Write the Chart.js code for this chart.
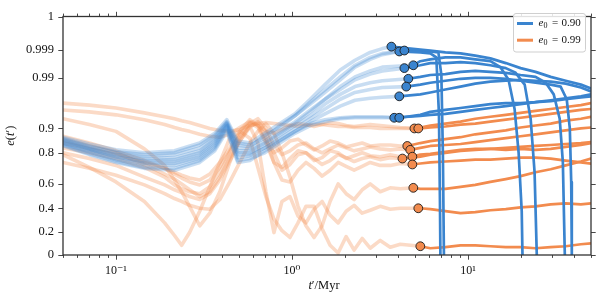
<!DOCTYPE html>
<html><head><meta charset="utf-8">
<script src="https://cdn.jsdelivr.net/npm/chart.js@4.4.0/dist/chart.umd.min.js"></script>
<style>html,body{margin:0;padding:0;background:#fff}</style>
</head><body>
<canvas id="c" width="600" height="300"></canvas>
<script>
// ---------- axis definitions ----------
const X_TICKS = [0.1, 1, 10];
const X_TICK_LABELS = ['10\u207B\u00B9', '10\u2070', '10\u00B9'];
const Y_TICKS = [0, 0.2, 0.4, 0.6, 0.8, 0.9, 0.99, 0.999, 1];
const Y_TICK_LABELS = ['0', '0.2', '0.4', '0.6', '0.8', '0.9', '0.99', '0.999', '1'];
const LEGEND_LABELS = ['0.90', '0.99'];

// ---------- e0 = 0.90 (blue) ----------
const BLUE_EARLY_T = [0.05,0.0706,0.1,0.145,0.215,0.299,0.364,0.426,0.492,0.577,0.701,0.854,1.04,1.27,1.54,1.88,2.28,2.78,3.26];
const BLUE_EARLY_E = [
 [0.864,0.836,0.812,0.8,0.808,0.84,0.88,0.9156,0.848,0.84,0.88,0.9087,0.926,0.9519,0.9779,0.9925,0.9956,0.9981,0.99903],
 [0.86,0.828,0.804,0.788,0.8,0.832,0.872,0.9121,0.84,0.832,0.86,0.9052,0.9225,0.9467,0.9692,0.9903,0.994,0.9965,0.9978],
 [0.856,0.824,0.8,0.775,0.788,0.82,0.864,0.9104,0.832,0.824,0.872,0.9017,0.9225,0.9433,0.964,0.9865,0.9934,0.9959,0.9974],
 [0.852,0.82,0.788,0.763,0.769,0.808,0.856,0.9087,0.82,0.816,0.848,0.888,0.9121,0.9329,0.9519,0.9744,0.9903,0.9922,0.9934],
 [0.848,0.816,0.781,0.75,0.756,0.8,0.848,0.9069,0.808,0.808,0.84,0.88,0.9087,0.9294,0.9519,0.9692,0.9865,0.9912,0.9922],
 [0.844,0.812,0.775,0.744,0.744,0.788,0.84,0.9052,0.8,0.8,0.832,0.872,0.9052,0.9225,0.9433,0.9606,0.9744,0.9813,0.9848],
 [0.84,0.808,0.763,0.731,0.731,0.775,0.832,0.9035,0.788,0.788,0.82,0.86,0.9,0.9173,0.9346,0.9519,0.964,0.9692,0.9727],
 [0.836,0.804,0.756,0.725,0.719,0.763,0.824,0.9017,0.769,0.781,0.82,0.852,0.888,0.9121,0.926,0.9398,0.9502,0.9537,0.9554],
 [0.832,0.794,0.744,0.706,0.7,0.75,0.816,0.896,0.75,0.763,0.8,0.84,0.88,0.9052,0.9121,0.9173,0.919,0.919,0.919],
 [0.828,0.788,0.738,0.7,0.688,0.738,0.808,0.888,0.738,0.75,0.808,0.848,0.888,0.9087,0.9156,0.919,0.9208,0.9208,0.9208]
];
const BLUE_MARK_T = [3.67,4.07,4.35,4.89,4.35,4.58,4.46,4.07,3.81,4.07];
const BLUE_MARK_E = [0.99909,0.9984,0.9987,0.994,0.9931,0.9883,0.9744,0.9571,0.919,0.919];

const LATE_T = [5.36,6.11,7.44,9.07,11.0,13.4,16.4,19.9,24.2,29.5,35.9,43.8,50];
const BLUE_LATE_E = [
 [0.999,0.9987,0.9981,0.9978,0.9971,0.9962,0.9947,0.9931,0.9919,0.9903,0.9848,0.9779,0.971],
 [0.9981,0.9978,null,null,null,null,null,null,null,null,null,null,null],
 [0.9987,0.9984,null,null,null,null,null,null,null,null,null,null,null],
 [0.9953,0.9959,0.9965,0.9965,0.9959,0.9953,null,null,null,null,null,null,null],
 [0.994,0.9947,0.9947,0.995,0.9947,0.994,0.9931,null,null,null,null,null,null],
 [0.9903,0.9909,0.9912,0.9919,0.9922,0.9919,0.9916,0.9909,0.9903,null,null,null,null],
 [0.9779,0.9813,0.9848,0.9883,0.99,0.99,0.9883,0.9848,0.9813,0.9779,null,null,null],
 [0.9606,0.964,0.9692,0.9744,0.9796,0.9831,0.9848,0.9865,0.9848,0.9831,0.9796,0.9727,0.9658],
 [0.9225,0.9242,0.926,0.9294,0.9329,0.9363,0.9398,0.9433,0.9467,0.9485,0.9519,0.9554,0.9571],
 [0.9242,0.9294,0.9329,0.9363,0.9398,0.9433,0.945,0.945,0.9467,0.9502,0.9537,0.9571,0.9606]
];
// final plunge to e = 0
const BLUE_PLUNGE_T = [[],[6.61,6.84,6.93,6.97],[6.79,7.06,7.2,7.3],[15.3,17.0,18.4,19.4,20.2,20.4],[18.65,21.0,22.7,23.9,24.6],[27.65,30.7,33.2,34.6,35.5],[33.6,36.4,37.9,38.6,38.9],[],[],[]];
const BLUE_PLUNGE_E = [[],[0.9965,0.926,0.456,0],[0.9981,0.9909,0.8,0],[0.9934,0.9865,0.9346,0.8,0.375,0],[0.9916,0.9779,0.9173,0.675,0],[0.9813,0.9606,0.9173,0.738,0],[0.9744,0.9519,0.9,0.6125,0],[],[],[]];

// ---------- e0 = 0.99 (orange) ----------
const ORANGE_EARLY_T = [0.05,0.0706,0.1,0.145,0.189,0.215,0.236,0.262,0.299,0.341,0.389,0.443,0.505,0.576,0.640,0.711,0.790,0.877,0.974,1.082,1.201,1.335,1.483,1.646,1.829,2.031,2.255,2.505,2.782,3.172,3.616,4.124];
const ORANGE_EARLY_E = [
 [0.945,0.9415,0.9363,0.9277,0.9208,0.9173,0.9138,0.9104,0.9052,0.9,0.892,0.888,0.896,0.9052,0.9087,0.9104,0.9087,0.9069,0.9052,0.9035,0.9052,0.9069,0.9069,0.9052,0.9035,0.9035,0.9017,0.9017,0.9017,0.9,0.9,0.9],
 [0.9329,0.9294,0.9242,0.9156,0.9069,0.9017,0.896,0.888,0.876,0.868,0.864,0.876,0.9017,0.9121,0.9052,0.888,0.88,0.896,0.9052,0.9087,0.9069,0.9035,0.9069,0.9104,0.9087,0.9052,0.9035,0.9052,0.9069,0.9052,0.9035,0.9017],
 [0.84,0.816,0.788,0.738,0.7,0.675,0.656,0.638,0.625,0.663,0.738,0.82,0.888,0.9156,0.9052,0.848,0.8,0.82,0.848,0.856,0.832,0.812,0.828,0.848,0.84,0.824,0.832,0.84,0.828,0.832,0.832,0.828],
 [0.868,0.84,0.808,0.75,0.7,0.663,0.638,0.613,0.592,0.625,0.706,0.808,0.872,0.9087,0.9173,0.9,0.832,0.788,0.808,0.832,0.84,0.816,0.8,0.816,0.832,0.82,0.808,0.816,0.824,0.816,0.812,0.816],
 [0.852,0.828,0.8,0.725,0.663,0.631,0.6,0.552,0.496,0.536,0.644,0.769,0.848,0.9017,0.9121,0.888,0.8,0.688,0.725,0.788,0.8,0.763,0.725,0.75,0.788,0.769,0.744,0.763,0.775,0.756,0.769,0.763],
 [0.82,0.8,0.763,0.706,0.644,0.592,0.56,0.536,0.52,0.576,0.675,0.8,0.88,0.9104,0.9017,0.84,0.738,0.706,0.763,0.808,0.8,0.75,0.769,0.808,0.8,0.763,0.781,0.8,0.781,0.775,0.788,0.775],
 [0.8,0.763,0.719,0.644,0.592,0.552,0.528,0.496,0.472,0.52,0.625,0.75,0.848,0.9052,0.9087,0.86,0.738,0.625,0.613,0.688,0.738,0.7,0.65,0.688,0.738,0.713,0.688,0.713,0.738,0.719,0.719,0.731],
 [0.738,0.7,0.656,0.592,0.52,0.48,0.456,0.424,0.4,0.392,0.472,0.613,0.738,0.84,0.888,0.9087,0.88,0.8,0.644,0.416,0.25,0.15,0.25,0.456,0.6,0.52,0.472,0.552,0.6,0.536,0.568,0.56],
 [0.9173,0.9069,0.888,0.816,0.719,0.625,0.536,0.416,0.25,0.358,0.536,0.738,0.86,0.9035,0.84,0.536,0.192,0.456,0.496,0.333,0.275,0.392,0.456,0.342,0.275,0.375,0.424,0.358,0.383,0.416,0.392,0.4],
 [0.788,0.706,0.613,0.456,0.275,0.167,0.083,0.192,0.375,0.576,0.738,0.86,0.888,0.86,0.706,0.496,0.308,0.208,0.15,0.275,0.416,0.416,0.225,0.083,0.017,0.158,0.042,0.142,0.058,0.125,0.067,0.092]
];
const ORANGE_MARK_T = [4.96,5.22,4.52,4.70,4.24,4.83,4.83,4.89,5.22,5.36];
const ORANGE_MARK_E = [0.9,0.9,0.828,0.812,0.763,0.775,0.725,0.568,0.4,0.075];
const ORANGE_LATE_E = [
 [0.9017,0.9052,0.9087,0.9121,0.9173,0.9208,0.9242,0.9277,0.9312,0.9346,0.9381,0.9415,0.945],
 [0.9,0.9017,0.9035,0.9069,0.9087,0.9121,0.9156,0.919,0.9225,0.926,0.9294,0.9329,0.9346],
 [0.84,0.848,0.856,0.864,0.876,0.884,0.892,0.9017,0.9052,0.9087,0.9138,0.9173,0.9208],
 [0.82,0.828,0.832,0.836,0.844,0.852,0.86,0.868,0.876,0.884,0.892,0.9,0.9017],
 [0.775,0.788,0.8,0.808,0.812,0.816,0.82,0.824,0.828,0.832,0.836,0.84,0.844],
 [0.788,0.794,0.804,0.812,0.816,0.816,0.812,0.816,0.812,0.816,0.824,0.832,0.84],
 [0.731,0.738,0.744,0.75,0.756,0.756,0.763,0.769,0.769,0.763,0.75,0.738,0.731],
 [0.56,0.56,0.56,0.576,0.592,0.613,0.631,0.65,0.675,0.694,0.719,0.744,0.763],
 [0.4,0.392,0.375,0.358,0.367,0.383,0.392,0.408,0.416,0.432,0.44,0.432,0.44],
 [0.075,0.058,0.067,0.083,0.083,0.075,0.067,0.067,0.058,0.067,0.075,0.092,0.1]
];

// ---------- styling ----------
const BLUE = '#3a84cf', ORANGE = '#f28b4e';
const BLUE_FADE = 'rgba(58,132,207,0.28)', ORANGE_FADE = 'rgba(242,139,78,0.32)';
const SERIF = "'Liberation Serif', 'DejaVu Serif', serif";

// nonlinear e-axis: scale units at each labelled tick
const Y_SCALE_UNITS = [0, 24, 48, 73, 105, 130, 182, 211, 245];
function toU(e) {
  for (let i = 1; i < Y_TICKS.length; i++) {
    if (e <= Y_TICKS[i]) {
      const a = Y_TICKS[i-1], b = Y_TICKS[i];
      return Y_SCALE_UNITS[i-1] + (e - a) / (b - a) * (Y_SCALE_UNITS[i] - Y_SCALE_UNITS[i-1]);
    }
  }
  return Y_SCALE_UNITS[Y_SCALE_UNITS.length - 1];
}

const datasets = [];
function addFamily(earlyT, earlyE, markT, markE, lateE, plT, plE, color, fade, fadeOrder, solidOrder, markOrder) {
  for (let i = 0; i < markT.length; i++) {
    const mt = markT[i], me = markE[i];
    const faded = [];
    earlyT.forEach((t, j) => { const e = earlyE[i][j]; if (e != null && t < mt) faded.push({x: t, y: toU(e)}); });
    faded.push({x: mt, y: toU(me)});
    datasets.push({data: faded, borderColor: fade, borderWidth: 3.6, order: fadeOrder, pointRadius: 0});
    const solid = [{x: mt, y: toU(me)}];
    LATE_T.forEach((t, j) => { const e = lateE[i][j]; if (e != null && t > mt) solid.push({x: t, y: toU(e)}); });
    (plT[i] || []).forEach((t, j) => solid.push({x: t, y: toU(plE[i][j])}));
    datasets.push({data: solid, borderColor: color, borderWidth: 2.7, order: solidOrder, pointRadius: 0});
  }
  datasets.push({
    data: markT.map((t, i) => ({x: t, y: toU(markE[i])})), showLine: false,
    pointRadius: 4.4, pointBackgroundColor: color, pointBorderColor: '#1c1c1c', pointBorderWidth: 0.9, order: markOrder
  });
}
addFamily(ORANGE_EARLY_T, ORANGE_EARLY_E, ORANGE_MARK_T, ORANGE_MARK_E, ORANGE_LATE_E, [], [], ORANGE, ORANGE_FADE, 6, 4, 1);
addFamily(BLUE_EARLY_T, BLUE_EARLY_E, BLUE_MARK_T, BLUE_MARK_E, BLUE_LATE_E, BLUE_PLUNGE_T, BLUE_PLUNGE_E, BLUE, BLUE_FADE, 5, 3, 0);

function drawRich(ctx, parts, cx, cy, size) {
  let w = 0;
  parts.forEach(p => { ctx.font = `${p[1]} ${size}px ${SERIF}`; w += ctx.measureText(p[0]).width; });
  let xx = cx - w / 2;
  ctx.textBaseline = 'middle'; ctx.textAlign = 'left';
  parts.forEach(p => { ctx.font = `${p[1]} ${size}px ${SERIF}`; ctx.fillText(p[0], xx, cy); xx += ctx.measureText(p[0]).width; });
}

const decor = {
  id: 'decor',
  afterDraw(chart) {
    const {ctx, chartArea: a, scales: {x, y}} = chart;
    ctx.save();
    // frame
    ctx.strokeStyle = '#333'; ctx.lineWidth = 1.3;
    ctx.strokeRect(a.left, a.top, a.right - a.left, a.bottom - a.top);
    // ticks on all four sides (outward)
    ctx.lineWidth = 0.9; ctx.beginPath();
    [0.01, 0.1, 1, 10].forEach(d => {
      for (let k = 1; k <= 9; k++) {
        const v = k * d;
        if (v < 0.05 - 1e-9 || v > 50 + 1e-9) continue;
        const px = Math.round(x.getPixelForValue(v)) + 0.5;
        const len = k === 1 ? 4.7 : 2.9;
        ctx.moveTo(px, a.bottom); ctx.lineTo(px, a.bottom + len);
        ctx.moveTo(px, a.top); ctx.lineTo(px, a.top - len);
      }
    });
    Y_TICKS.forEach(v => {
      const py = Math.round(y.getPixelForValue(toU(v))) + 0.5;
      ctx.moveTo(a.left - 4.7, py); ctx.lineTo(a.left, py);
      ctx.moveTo(a.right, py); ctx.lineTo(a.right + 4.7, py);
    });
    ctx.stroke();
    // axis titles
    ctx.fillStyle = '#111';
    drawRich(ctx, [['t', 'italic'], ['\u2032/Myr', 'normal']], (a.left + a.right) / 2 - 3, 286, 12.5);
    ctx.save();
    ctx.translate(11, (a.top + a.bottom) / 2); ctx.rotate(-Math.PI / 2);
    drawRich(ctx, [['e', 'italic'], ['(', 'normal'], ['t', 'italic'], ['\u2032)', 'normal']], 0, 0, 12.5);
    ctx.restore();
    // legend
    const lx = 513.5, ly = 13.5, lw = 72, lh = 38.5;
    ctx.beginPath();
    if (ctx.roundRect) ctx.roundRect(lx, ly, lw, lh, 2.5); else ctx.rect(lx, ly, lw, lh);
    ctx.fillStyle = 'rgba(255,255,255,0.85)'; ctx.fill();
    ctx.strokeStyle = '#cfcfcf'; ctx.lineWidth = 1; ctx.stroke();
    [BLUE, ORANGE].forEach((col, i) => {
      const yy = 23.5 + i * 16.7;
      ctx.strokeStyle = col; ctx.lineWidth = 3; ctx.lineCap = 'butt';
      ctx.beginPath(); ctx.moveTo(517, yy); ctx.lineTo(533, yy); ctx.stroke();
      ctx.fillStyle = '#111'; ctx.textBaseline = 'middle'; ctx.textAlign = 'left';
      ctx.font = `italic 11px ${SERIF}`; ctx.fillText('e', 538.5, yy);
      let xx = 538.5 + ctx.measureText('e').width;
      ctx.font = `8px ${SERIF}`; ctx.fillText('0', xx + 0.2, yy + 2.8);
      ctx.font = `11px ${SERIF}`; ctx.fillText('=', 552, yy);
      ctx.fillText(LEGEND_LABELS[i], 561.5, yy);
    });
    ctx.restore();
  }
};

new Chart(document.getElementById('c'), {
  type: 'line',
  data: {datasets},
  options: {
    responsive: false, animation: false, devicePixelRatio: 1, parsing: false,
    layout: {padding: {top: 10, right: 9, left: 0, bottom: 0}},
    plugins: {legend: {display: false}, tooltip: {enabled: false}},
    elements: {line: {tension: 0, borderCapStyle: 'round', borderJoinStyle: 'round'}, point: {radius: 0}},
    scales: {
      x: {
        type: 'logarithmic', min: 0.05, max: 50,
        grid: {display: false, drawTicks: false}, border: {display: false},
        afterBuildTicks: s => { s.ticks = X_TICKS.map(v => ({value: v, major: true})); },
        ticks: {autoSkip: false, maxRotation: 0, padding: 9, color: '#111', font: {family: SERIF, size: 12},
                callback: (v, i) => X_TICK_LABELS[i]},
        afterFit: s => { s.height = 45; }
      },
      y: {
        type: 'linear', min: 0, max: 245,
        grid: {display: false, drawTicks: false}, border: {display: false},
        afterBuildTicks: s => { s.ticks = Y_TICKS.map(v => ({value: toU(v)})); },
        ticks: {autoSkip: false, padding: 9, color: '#111', font: {family: SERIF, size: 12.5},
                callback: (v, i) => Y_TICK_LABELS[i]},
        afterFit: s => { s.width = 63; }
      }
    }
  },
  plugins: [decor]
});
</script>
</body></html>
